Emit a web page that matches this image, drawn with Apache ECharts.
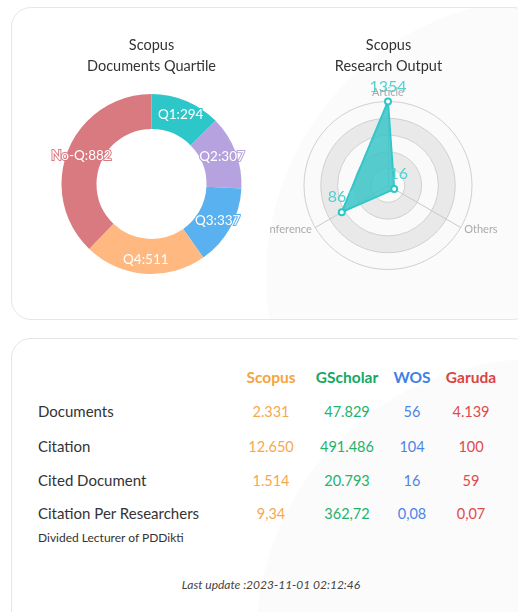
<!DOCTYPE html>
<html>
<head>
<meta charset="utf-8">
<script src="https://cdn.jsdelivr.net/npm/echarts@6/dist/echarts.min.js"></script>
<style>
  body { margin: 0; background: #fff; font-family: Lato, "Noto Sans", sans-serif; color: #333; }
  .card { position: absolute; left: 11px; width: 520px; border: 1px solid #e6e6e6; border-radius: 20px; overflow: hidden; background: #fff; }
  .deco { position: absolute; border-radius: 50%; background: rgba(0,0,0,0.016); }
  .chart { position: absolute; top: 0; width: 237px; height: 310px; }
  .cell { position: absolute; white-space: nowrap; transform: translate(-50%, -50%); font-size: 14.5px; }
  .lab { position: absolute; white-space: nowrap; transform: translateY(-50%); font-size: 15px; color: #333; }
</style>
</head>
<body>
<div class="card" id="top" style="top:7px;height:311px;">
  <div class="deco" style="left:254px;top:-10px;width:560px;height:560px;"></div>
  <div class="chart" id="pie" style="left:21px;"></div>
  <div class="chart" id="radar" style="left:258px;"></div>
</div>
<div class="card" id="bottom" style="top:338px;height:300px;">
  <div class="deco" style="left:244px;top:20px;width:560px;height:560px;"></div>
</div>
<script>
// quartile donut
const quartNames = ["Q1", "Q2", "Q3", "Q4", "No-Q"];
const quartValues = [294, 307, 337, 511, 882];
const quartColors = ["#2ec7c9", "#b6a2de", "#5ab1ef", "#ffb980", "#d87a80"];

// research output radar
const outputNames = ["Article", "Conference", "Others"];
const outputValues = [1354, 861, 116];

// table
const sources = ["Scopus", "GScholar", "WOS", "Garuda"];
const headColors = ["#f5a43f", "#16a862", "#3f7fe6", "#dc4343"];
const valColors = ["#f6a94e", "#24b26c", "#4d84e8", "#df4a4c"];
const metrics = ["Documents", "Citation", "Cited Document", "Citation Per Researchers"];
const scopusVals = ["2.331", "12.650", "1.514", "9,34"];
const gscholarVals = ["47.829", "491.486", "20.793", "362,72"];
const wosVals = ["56", "104", "16", "0,08"];
const garudaVals = ["4.139", "100", "59", "0,07"];
const lastUpdate = "Last update :2023-11-01 02:12:46";

const font = "Lato, 'Noto Sans', sans-serif";

const pie = echarts.init(document.getElementById("pie"));
pie.setOption({
  title: {
    text: "Scopus\nDocuments Quartile",
    left: "center",
    top: 22,
    textStyle: { fontSize: 14.5, fontWeight: "normal", color: "#333", lineHeight: 21, fontFamily: font },
  },
  series: [
    {
      type: "pie",
      center: ["50%", 176],
      radius: [55, 90],
      startAngle: 90,
      label: {
        position: "inside",
        formatter: "{b}:{c}",
        color: "#fff",
        fontSize: 13.5,
        fontFamily: font,
        textBorderWidth: 2,
      },
      labelLine: { show: false },
      data: quartNames.map((n, i) => ({
        name: n,
        value: quartValues[i],
        itemStyle: { color: quartColors[i] },
        label: { textBorderColor: quartColors[i] },
      })),
    },
  ],
});

const radar = echarts.init(document.getElementById("radar"));
const maxOut = Math.max(...outputValues);
radar.setOption({
  title: {
    text: "Scopus\nResearch Output",
    left: "center",
    top: 22,
    textStyle: { fontSize: 14.5, fontWeight: "normal", color: "#333", lineHeight: 21, fontFamily: font },
  },
  radar: {
    center: [118, 177.5],
    radius: 84,
    shape: "circle",
    splitNumber: 5,
    nameGap: 4,
    axisName: { color: "#aaa", fontSize: 11, fontFamily: font },
    indicator: outputNames.map((n) => ({ name: n, max: maxOut })),
    splitLine: { lineStyle: { color: "#cfcfcf" } },
    splitArea: { areaStyle: { color: ["rgba(250,250,250,0.6)", "rgba(215,215,215,0.5)"] } },
    axisLine: { lineStyle: { color: "#c8c8c8" } },
  },
  series: [
    {
      type: "radar",
      symbol: "emptyCircle",
      symbolSize: 6,
      lineStyle: { color: "#2ec7c9", width: 2 },
      itemStyle: { color: "#2ec7c9" },
      areaStyle: { color: "#3cc6c8", opacity: 0.85 },
      label: { show: true, position: "top", color: "#4fd0d2", fontSize: 16, fontFamily: font, distance: 3 },
      data: [{ value: outputValues, name: "Research Output" }],
    },
  ],
});

// table text
const bottom = document.getElementById("bottom");
const colX = [259, 335, 400, 459]; // column centres relative to card
const rowY = [72, 107, 141, 174];
const columns = [scopusVals, gscholarVals, wosVals, garudaVals];
function add(cls, text, x, y, style) {
  const d = document.createElement("div");
  d.className = cls;
  d.textContent = text;
  d.style.left = x + "px";
  d.style.top = y + "px";
  Object.assign(d.style, style || {});
  bottom.appendChild(d);
}
sources.forEach((s, i) => add("cell", s, colX[i], 38, { color: headColors[i], fontWeight: "bold", fontSize: "15.5px" }));
metrics.forEach((m, r) => {
  add("lab", m, 26, rowY[r]);
  columns.forEach((col, i) => add("cell", col[r], colX[i], rowY[r], { color: valColors[i] }));
});
add("lab", "Divided Lecturer of PDDikti", 26, 198, { fontSize: "12px" });
add("cell", lastUpdate, 259, 245, { fontSize: "12px", fontStyle: "italic", color: "#444" });
</script>
</body>
</html>
